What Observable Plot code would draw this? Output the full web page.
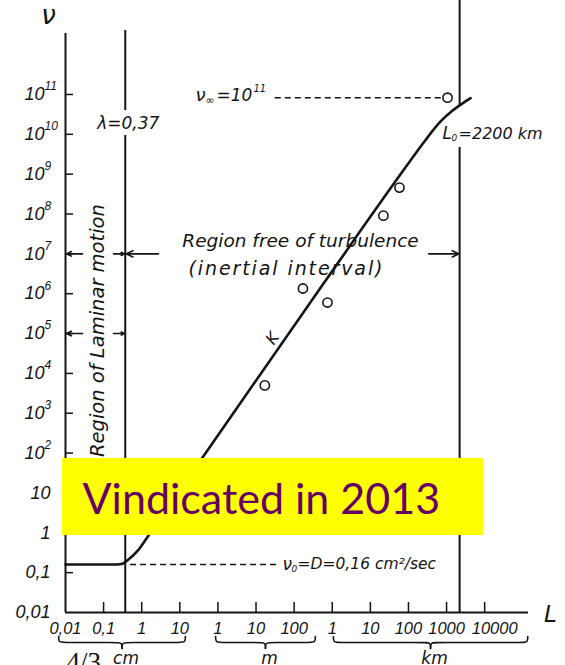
<!DOCTYPE html>
<html><head><meta charset="utf-8">
<script src="https://cdn.jsdelivr.net/npm/d3@7"></script>
<script src="https://cdn.jsdelivr.net/npm/@observablehq/plot@0.6"></script>
<style>
body{margin:0;background:#fff;}
#chart{width:565px;height:665px;overflow:hidden;}
</style></head><body><div id="chart"></div>
<script>
// ---------- data ----------
// scale extents (L in cm, nu in cm^2/sec)
const L_MIN = 1e-2, L_MAX = 10 ** 10.15;
const NU_MIN = 1e-2, NU_MAX = 10 ** 12.53;

// y-axis ticks
const nuTicks = [1e11, 1e10, 1e9, 1e8, 1e7, 1e6, 1e5, 1e4, 1e3, 1e2, 1e1, 1, 0.1];
const nuExpValues = [1e11, 1e10, 1e9, 1e8, 1e7, 1e6, 1e5, 1e4, 1e3, 1e2];
const nuExpLabels = ["11", "10", "9", "8", "7", "6", "5", "4", "3", "2"];
const nuPlainValues = [10, 1, 0.1, 0.01];
const nuPlainLabels = ["10", "1", "0,1", "0,01"];

// x-axis ticks
const lTicks = [0.1, 1, 10, 100, 1e3, 1e4, 1e5, 1e6, 1e7, 1e8, 1e9];
const lLabelValues = [0.01, 0.1, 1, 10, 100, 1e3, 1e4, 1e5, 1e6, 1e7, 1e8];
const lLabels = ["0,01", "0,1", "1", "10", "1", "10", "100", "1", "10", "100", "1000"];
const lLastLabelValue = 1e9;
const lLastLabel = "10000";

// unit braces
const braceUnits = ["cm", "m", "km"];
const braceFrom = [0.0066, 87, 1.07e5];
const braceTo = [14, 3.6e4, 1.35e10];

// curve K (Richardson 4/3 law)
const curveL = [0.01, 0.18, 0.295, 0.45, 0.776, 1.42, 53, 5.9e4, 1.13e7, 2.81e7, 6.97e7, 1.44e8, 2.63e8, 4.27e8];
const curveNu = [0.16, 0.16, 0.165, 0.214, 0.35, 0.79, 116, 1.8e6, 2.2e9, 7.2e9, 2.1e10, 3.95e10, 6.0e10, 8.1e10];

// observations
const obsL = [1700, 1.7e4, 7.5e4, 2.2e6, 5.8e6, 1.06e8];
const obsNu = [5000, 1.35e6, 6.0e5, 9.1e7, 4.6e8, 8.3e10];

// reference values
const LAMBDA = 0.37;          // cm
const L0 = 2.2e8;             // 2200 km in cm
const NU0 = 0.16;             // cm^2/sec
const NU_INF = 8.3e10;

// vertical reference lines (with gaps around labels)
const vSegX = [LAMBDA, LAMBDA, L0, L0];
const vSegY1 = [4.03e12, 9.3e9, 2.3e13, 4.7e9];
const vSegY2 = [3.95e10, NU_MIN, 5.2e10, NU_MIN];

// dashed guide lines
const dashY = [NU_INF, NU0];
const dashX1 = [3.2e3, 0.51];
const dashX2 = [7.4e7, 4.4e3];

// arrows
const arrX1 = [0.028, 0.182, 2.76, 3.4e7, 0.028, 0.182];
const arrX2 = [0.0106, 0.355, 0.39, 2.12e8, 0.0106, 0.355];
const arrY = [1e7, 1e7, 1e7, 1e7, 1e5, 1e5];

// highlight box
const boxX = [0.00834, 9.35e8];
const boxY = [0.855, 73.3];
const boxText = "Vindicated in 2013";
const boxTextAt = [0.0279, 6.46];

// ---------- styles ----------
const INK = "#141414";
const HAND = "DejaVu Sans";
const DIG = "Liberation Sans";
const yTickLen = 10 ** (8 / 38.1);
const xTickLen = 10 ** (10 / 39.85);

const table = (cols) => cols[0].map((_, i) => cols.map(c => c[i]));

const marks = [];

// axes
marks.push(Plot.ruleX([L_MIN], {y1: NU_MIN, y2: NU_MAX, stroke: INK, strokeWidth: 2}));
marks.push(Plot.ruleY([NU_MIN], {x1: L_MIN, x2: L_MAX, stroke: INK, strokeWidth: 2}));
marks.push(Plot.ruleY(nuTicks, {y: d => d, x1: L_MIN, x2: L_MIN * yTickLen, stroke: INK, strokeWidth: 1.5}));
marks.push(Plot.ruleX(lTicks, {x: d => d, y1: NU_MIN, y2: NU_MIN * xTickLen, stroke: INK, strokeWidth: 1.5}));

// y tick labels
marks.push(Plot.text(nuExpValues, {x: L_MIN, y: d => d, text: () => "10", textAnchor: "end", dx: -21,
  fontFamily: DIG, fontStyle: "italic", fontSize: 18, fill: INK}));
marks.push(Plot.text(nuExpValues, {x: L_MIN, y: d => d, text: (d, i) => nuExpLabels[i], textAnchor: "start", dx: -21, dy: -8,
  fontFamily: DIG, fontStyle: "italic", fontSize: 12, fill: INK}));
marks.push(Plot.text(nuPlainValues, {x: L_MIN, y: d => d, text: (d, i) => nuPlainLabels[i], textAnchor: "end", dx: -15,
  fontFamily: DIG, fontStyle: "italic", fontSize: 18, fill: INK}));

// x tick labels
marks.push(Plot.text(lLabelValues, {x: d => d, y: NU_MIN, text: (d, i) => lLabels[i], dy: 16,
  fontFamily: DIG, fontStyle: "italic", fontSize: 16.5, fill: INK}));
marks.push(Plot.text([lLastLabelValue], {x: d => d, y: NU_MIN, text: () => lLastLabel, dy: 16, dx: 10,
  fontFamily: DIG, fontStyle: "italic", fontSize: 16.5, fill: INK}));

// braces
const braceTop = 10 ** -2.602, braceMid = 10 ** -2.753, braceTip = 10 ** -2.903;
const braceD = 10 ** (6 / 38.1);
const bracePts = [];
braceUnits.forEach((u, i) => {
  const a = braceFrom[i], b = braceTo[i], m = Math.sqrt(a * b);
  const left = [[a, braceTop], [a, braceMid], [a * braceD, braceMid], [m / braceD, braceMid], [m, braceMid], [m, braceTip]];
  const right = [[m, braceTip], [m, braceMid], [m * braceD, braceMid], [b / braceD, braceMid], [b, braceMid], [b, braceTop]];
  left.forEach(p => bracePts.push({x: p[0], y: p[1], z: u + "L"}));
  right.forEach(p => bracePts.push({x: p[0], y: p[1], z: u + "R"}));
});
marks.push(Plot.line(bracePts, {x: "x", y: "y", z: "z", curve: "basis", stroke: INK, strokeWidth: 1.6}));
marks.push(Plot.text(braceUnits, {x: (d, i) => Math.sqrt(braceFrom[i] * braceTo[i]), y: NU_MIN, text: d => d, dy: 46, dx: 4,
  fontFamily: HAND, fontStyle: "italic", fontSize: 17, fill: INK}));
marks.push(Plot.text(["4/3"], {x: L_MIN, y: NU_MIN, text: d => d, textAnchor: "start", dx: 1, dy: 50,
  fontFamily: "Liberation Serif", fontSize: 27, fill: INK}));

// vertical reference lines
marks.push(Plot.ruleX(table([vSegX, vSegY1, vSegY2]), {x: d => d[0], y1: d => d[1], y2: d => d[2], stroke: INK, strokeWidth: 2}));

// dashed guides
marks.push(Plot.ruleY(table([dashY, dashX1, dashX2]), {y: d => d[0], x1: d => d[1], x2: d => d[2], stroke: INK, strokeWidth: 1.6, strokeDasharray: "6,4"}));

// curve
marks.push(Plot.line(curveL.map((l, i) => [l, curveNu[i]]), {x: d => d[0], y: d => d[1], curve: "monotone-x", stroke: INK, strokeWidth: 2.6}));

// observations
marks.push(Plot.dot(obsL.map((l, i) => [l, obsNu[i]]), {x: d => d[0], y: d => d[1], r: 4.6, fill: "white", stroke: INK, strokeWidth: 1.6}));

// arrows
marks.push(Plot.arrow(table([arrX1, arrX2, arrY]), {x1: d => d[0], x2: d => d[1], y1: d => d[2], y2: d => d[2],
  stroke: INK, strokeWidth: 1.6, headLength: 7, headAngle: 50}));

// annotations
const handText = (txt, x, y, opts = {}) => Plot.text([txt], {x: () => x, y: () => y, text: d => d,
  fontFamily: HAND, fontStyle: "italic", fill: INK, fontSize: 17, ...opts});

marks.push(handText("ν", L_MIN, NU_MAX, {dx: -17, dy: -18, fontSize: 26}));
marks.push(handText("L", L_MAX, NU_MIN, {dx: 22, dy: 2, fontSize: 23}));
marks.push(handText("λ=0,37", LAMBDA, 1.86e10, {dx: 3, fontSize: 17}));
marks.push(handText("Region free of turbulence", 1.47e4, 2.04e7, {fontSize: 18.5}));
marks.push(handText("(inertial interval)", 5.94e3, 4.27e6, {fontSize: 19}));
marks.push(handText("Region of Laminar motion", 0.069, 1.19e5, {rotate: -90, fontSize: 19.5}));
marks.push(handText("K", 2.71e3, 7.5e4, {rotate: -55, fontSize: 16}));

// nu_inf label
const nuInfX = 25.8;
marks.push(handText("ν", nuInfX, NU_INF, {textAnchor: "start", dy: -2, fontSize: 18}));
marks.push(handText("∞", nuInfX, NU_INF, {textAnchor: "start", dx: 10, dy: 3, fontSize: 11}));
marks.push(handText("=10", nuInfX, NU_INF, {textAnchor: "start", dx: 21, dy: -2, fontSize: 17}));
marks.push(handText("11", nuInfX, NU_INF, {textAnchor: "start", dx: 58, dy: -9, fontSize: 10}));

// L0 label
const l0LabX = 7.85e7, l0LabY = 1.05e10;
marks.push(handText("L", l0LabX, l0LabY, {textAnchor: "start", fontSize: 17}));
marks.push(handText("0", l0LabX, l0LabY, {textAnchor: "start", dx: 9, dy: 5, fontSize: 9}));
marks.push(handText("=2200 km", l0LabX, l0LabY, {textAnchor: "start", dx: 16, fontSize: 16}));

// nu0 label
const nu0LabX = 4970;
marks.push(handText("ν", nu0LabX, NU0, {textAnchor: "start", fontSize: 17}));
marks.push(handText("0", nu0LabX, NU0, {textAnchor: "start", dx: 9, dy: 5, fontSize: 9}));
marks.push(handText("=D=0,16 cm²/sec", nu0LabX, NU0, {textAnchor: "start", dx: 15, fontSize: 15.5}));

// highlight box
marks.push(Plot.rect([0], {x1: () => boxX[0], x2: () => boxX[1], y1: () => boxY[0], y2: () => boxY[1], fill: "#ffff00"}));
marks.push(Plot.text([boxText], {x: () => boxTextAt[0], y: () => boxTextAt[1], text: d => d, textAnchor: "start",
  fontFamily: "Lato", fontSize: 43, fill: "#660066"}));

const chart = Plot.plot({
  width: 565,
  height: 665,
  marginLeft: 65,
  marginRight: 37,
  marginTop: 33,
  marginBottom: 53,
  x: {type: "log", domain: [L_MIN, L_MAX], axis: null},
  y: {type: "log", domain: [NU_MIN, NU_MAX], axis: null},
  style: {background: "white", overflow: "visible"},
  marks
});
document.getElementById("chart").appendChild(chart);

// stretch the hand-lettered "(inertial interval)" to the reference width
chart.querySelectorAll("text").forEach(t => {
  if (t.textContent === "(inertial interval)") {
    t.setAttribute("textLength", "194");
    t.setAttribute("lengthAdjust", "spacing");
  }
});
</script>
</body></html>
